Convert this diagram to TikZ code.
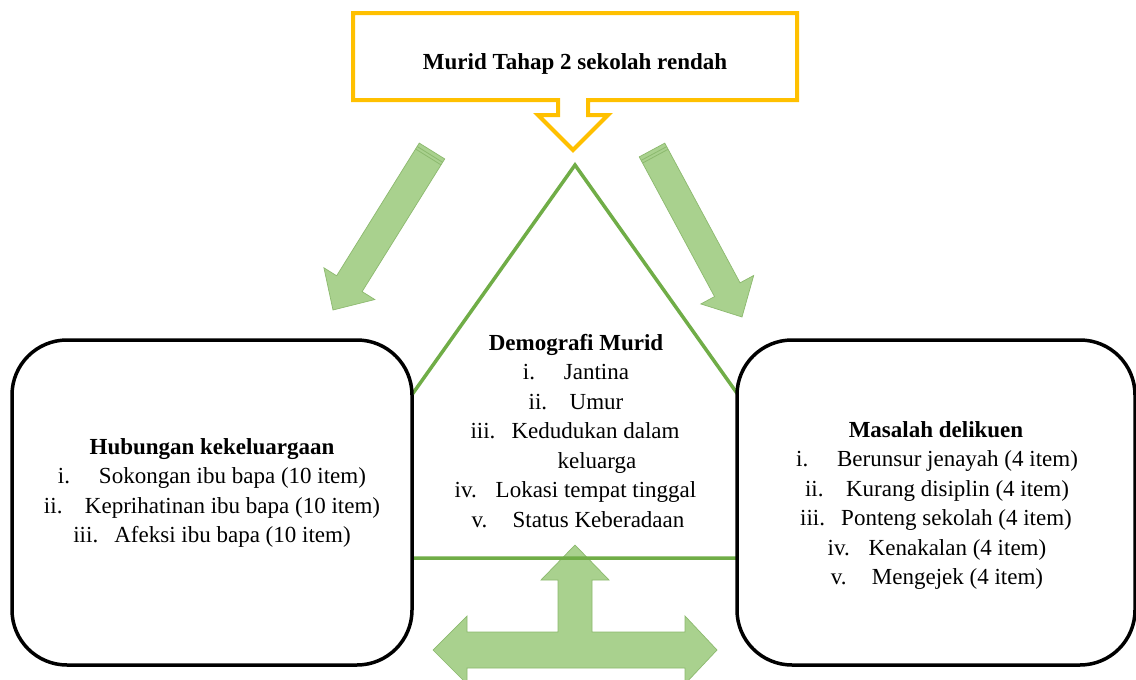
\documentclass[tikz,border=0pt]{standalone}
\usepackage{fontspec}
\setmainfont{Liberation Serif}
\usetikzlibrary{calc}
\definecolor{gold}{RGB}{255,192,0}
\definecolor{tgreen}{RGB}{112,173,71}
\definecolor{afill}{RGB}{169,209,142}
\definecolor{aedge}{RGB}{140,185,110}
\newcommand\numf[1]{\makebox[41pt][l]{#1}}
\newcommand\fatarrow[5]{%
  \path ($(#2)!#5!(#1)$) coordinate (#2base);
  \filldraw[fatarr] ($(#1)!#3!90:(#2)$) -- ($(#2base)!#3!90:(#2)$) -- ($(#2base)!#4!90:(#2)$) -- (#2)
    -- ($(#2base)!#4!-90:(#2)$) -- ($(#2base)!#3!-90:(#2)$) -- ($(#1)!#3!-90:(#2)$) -- cycle;
  \path ($(#1)!4pt!(#2)$) coordinate (#1sa) ($(#1)!7pt!(#2)$) coordinate (#1sb);
  \draw[stripe] ($(#1sa)!#3!90:(#2)$) -- ($(#1sa)!#3!-90:(#2)$);
  \draw[stripe] ($(#1sb)!#3!90:(#2)$) -- ($(#1sb)!#3!-90:(#2)$);
}
\tikzset{
  txt/.style={inner sep=0pt, anchor=base, font=\fontsize{23}{28}\selectfont},
  head/.style={txt, font=\fontsize{23}{28}\selectfont\bfseries},
  fatarr/.style={fill=afill, draw=aedge, line width=0.7pt, line join=miter},
  stripe/.style={draw=aedge, line width=0.8pt},
  roundbox/.style={draw=black, line width=3.5pt, fill=white, rounded corners=55pt},
}
\begin{document}
\begin{tikzpicture}[x=1pt, y=-1pt]
\useasboundingbox (0,0) rectangle (1136,680);
\clip (0,0) rectangle (1136,680);
\fill[white] (0,0) rectangle (1136,680);

% yellow callout
\draw[gold, line width=4pt, fill=white, line join=miter]
  (353,13) -- (797,13) -- (797,100) -- (588,100) -- (588,115) -- (608,115) -- (573,150)
  -- (538,115) -- (558,115) -- (558,100) -- (353,100) -- cycle;
\node[head] (top) at (575,69) {Murid Tahap 2 sekolah rendah};

% slanted fat arrows
\coordinate (lt) at (432,151);
\coordinate (lp) at (333,310);
\coordinate (rt) at (652,150);
\coordinate (rp) at (742,317);
\fatarrow{lt}{lp}{15pt}{30pt}{31pt}
\fatarrow{rt}{rp}{14.5pt}{30pt}{31pt}

% T-shaped arrow
\filldraw[fatarr] (575,545) -- (609,580) -- (592,580) -- (592,632) -- (685,632) -- (685,616)
  -- (717,650) -- (685,684) -- (685,668) -- (467,668) -- (467,684) -- (433,650)
  -- (467,616) -- (467,632) -- (558,632) -- (558,580) -- (541,580) -- cycle;

% triangle
\coordinate (apex) at (575,165);
\coordinate (bl) at (296,558);
\coordinate (br) at (854,558);
\draw[tgreen, line width=3.5pt, line join=miter] (apex) -- (br) -- (bl) -- cycle;

% boxes
\node[roundbox, minimum width=400pt, minimum height=325pt] (left) at (212,502.5) {};
\node[roundbox, minimum width=398pt, minimum height=325pt] (right) at (936,502.5) {};

% left text
\node[head] (lh) at (212,454) {Hubungan kekeluargaan};
\node[txt] (l1) at (212,483.5) {\numf{i.}Sokongan ibu bapa (10 item)};
\node[txt] (l2) at (212,513) {\numf{ii.}Keprihatinan ibu bapa (10 item)};
\node[txt] (l3) at (212,542.5) {\numf{iii.}Afeksi ibu bapa (10 item)};

% middle text
\node[head] (mh) at (576,350) {Demografi Murid};
\node[txt] (m1) at (576,379.5) {\numf{i.}Jantina};
\node[txt] (m2) at (576,409) {\numf{ii.}Umur};
\node[txt] (m3) at (575,438.5) {\numf{iii.}Kedudukan dalam};
\node[txt] (m3b) at (597,468) {keluarga};
\node[txt] (m4) at (575.5,497.5) {\numf{iv.}Lokasi tempat tinggal};
\node[txt] (m5) at (578,527) {\numf{v.}Status Keberadaan};

% right text
\node[head] (rh) at (936,437) {Masalah delikuen};
\node[txt] (r1) at (937,466.5) {\numf{i.}Berunsur jenayah (4 item)};
\node[txt] (r2) at (937,496) {\numf{ii.}Kurang disiplin (4 item)};
\node[txt] (r3) at (936,525.5) {\numf{iii.}Ponteng sekolah (4 item)};
\node[txt] (r4) at (937,555) {\numf{iv.}Kenakalan (4 item)};
\node[txt] (r5) at (937,584.5) {\numf{v.}Mengejek (4 item)};
\end{tikzpicture}
\end{document}
